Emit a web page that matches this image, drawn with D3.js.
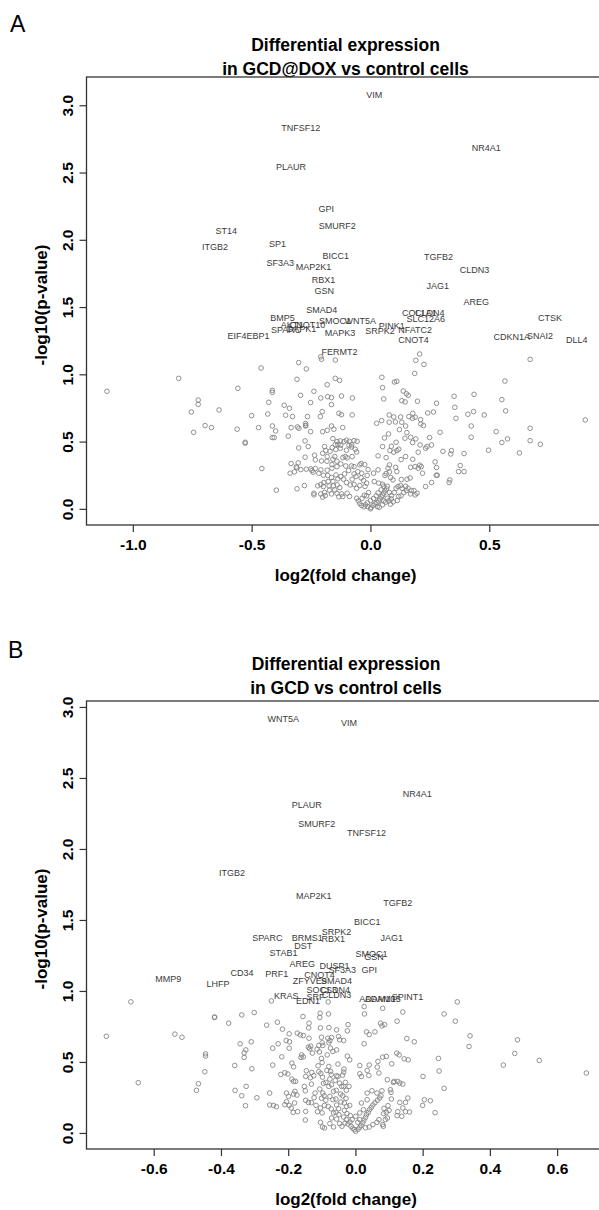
<!DOCTYPE html>
<html>
<head>
<meta charset="utf-8">
<script src="https://cdn.jsdelivr.net/npm/d3@7"></script>
<style>
  body { margin: 0; background: #fff; }
  svg { display: block; font-family: "Liberation Sans", Arial, sans-serif; }
</style>
</head>
<body>
<svg id="chart" width="599" height="1210"></svg>
<script>
/*
 * VOLCANO PLOTS: DIFFERENTIAL EXPRESSION, GCD@DOX AND GCD VS CONTROL CELLS
 */

// DATA - PANEL A (log2 fold change, -log10 p)
var labelsA = [
    ["VIM", 0.016, 3.08], ["TNFSF12", -0.293, 2.83], ["NR4A1", 0.487, 2.68],
    ["PLAUR", -0.334, 2.54], ["GPI", -0.186, 2.23], ["SMURF2", -0.14, 2.10],
    ["ST14", -0.607, 2.07], ["ITGB2", -0.654, 1.95], ["SP1", -0.391, 1.97],
    ["BICC1", -0.146, 1.88], ["TGFB2", 0.286, 1.876], ["SF3A3", -0.38, 1.83],
    ["MAP2K1", -0.24, 1.80], ["CLDN3", 0.438, 1.78], ["RBX1", -0.198, 1.70],
    ["JAG1", 0.283, 1.66], ["GSN", -0.194, 1.62], ["AREG", 0.445, 1.54],
    ["SMAD4", -0.205, 1.48], ["COL1A1", 0.205, 1.46], ["CLDN4", 0.25, 1.46],
    ["BMP5", -0.37, 1.42], ["SLC12A6", 0.233, 1.41], ["CTSK", 0.756, 1.42],
    ["SMOC1", -0.149, 1.40], ["WNT5A", -0.043, 1.395], ["AKT1", -0.33, 1.365],
    ["CNOT10", -0.265, 1.37], ["PINK1", 0.09, 1.36], ["SPARC", -0.355, 1.333],
    ["DAPK1", -0.29, 1.335], ["SRPK2", 0.04, 1.326], ["NFATC2", 0.188, 1.328],
    ["MAPK3", -0.128, 1.31], ["EIF4EBP1", -0.513, 1.284], ["CDKN1A", 0.595, 1.28],
    ["SNAI2", 0.714, 1.284], ["CNOT4", 0.181, 1.254], ["DLL4", 0.868, 1.254],
    ["FERMT2", -0.13, 1.168]
];

var pointsA = [
    [-0.209,1.13],[-0.206,1.112],[-0.148,1.106],[-0.302,1.087],[0.207,1.151],[0.191,1.104],[0.225,1.074],[0.672,1.111],
    [-0.46,1.047],[-0.27,1.04],[0.186,1.007],[0.048,0.978],[-0.807,0.970],[-0.148,0.970],[-0.13,0.955],[-0.309,0.963],
    [0.566,0.950],[0.101,0.943],[0.111,0.948],[-0.182,0.923],[0.051,0.901],[-1.109,0.874],[-0.558,0.896],[-0.413,0.881],
    [-0.413,0.866],[-0.238,0.874],[0.138,0.876],[0.151,0.856],[0.159,0.844],[-0.294,0.844],[-0.122,0.839],[-0.076,0.824],
    [0.352,0.837],[0.436,0.851],[-0.18,0.834],[-0.164,0.827],[-0.209,0.824],[0.056,0.817],[0.132,0.804],[0.146,0.795],
    [0.198,0.800],[0.553,0.812],[-0.725,0.809],[-0.725,0.777],[-0.428,0.792],[-0.363,0.770],[-0.341,0.748],[-0.252,0.790],
    [-0.164,0.775],[0.278,0.785],[0.355,0.755],[0.569,0.728],[0.434,0.723],[0.410,0.703],[0.479,0.698],[0.241,0.713],
    [0.265,0.720],[-0.637,0.735],[-0.754,0.720],[-0.5,0.693],[-0.432,0.705],[-0.357,0.696],[-0.328,0.686],[-0.265,0.686],
    [-0.211,0.686],[-0.203,0.723],[-0.133,0.710],[-0.122,0.700],[-0.077,0.698],[0.079,0.698],[0.098,0.683],[0.127,0.683],
    [0.162,0.686],[0.178,0.710],[0.177,0.673],[0.188,0.681],[0.211,0.663],[0.079,0.644],[0.105,0.646],[0.132,0.644],
    [0.026,0.636],[0.047,0.656],[0.212,0.631],[0.223,0.619],[0.148,0.616],[0.293,0.569],[0.360,0.673],[0.904,0.661],
    [-0.696,0.619],[-0.669,0.604],[-0.744,0.569],[-0.561,0.592],[-0.471,0.604],[-0.413,0.616],[-0.399,0.579],[-0.405,0.530],
    [-0.413,0.530],[-0.334,0.604],[-0.307,0.609],[-0.301,0.599],[-0.273,0.634],[-0.272,0.621],[-0.273,0.616],[-0.252,0.574],
    [-0.201,0.574],[-0.182,0.584],[-0.164,0.616],[-0.154,0.592],[-0.117,0.604],[-0.346,0.540],[-0.302,0.453],[-0.262,0.463],
    [-0.275,0.505],[-0.527,0.495],[-0.527,0.488],[0.553,0.493],[0.577,0.520],[0.672,0.599],[0.672,0.507],[0.715,0.480],
    [0.627,0.416],[0.529,0.574],[0.497,0.436],[0.424,0.532],[0.424,0.616],[0.394,0.411],[0.341,0.433],[0.338,0.408],
    [0.378,0.322],[0.394,0.277],[0.371,0.277],[0.334,0.215],[0.331,0.196],[0.305,0.428],[0.272,0.349],[0.278,0.307],
    [0.281,0.250],[0.277,0.250],[0.257,0.196],[0.232,0.166],[0.232,0.450],[0.257,0.475],[0.209,0.475],[0.177,0.493],
    [0.191,0.520],[0.169,0.532],[0.249,0.530],[0.238,0.463],[0.201,0.421],[0.207,0.324],[0.188,0.314],[0.201,0.302],
    [0.219,0.265],[0.214,0.314],[0.169,0.309],[0.178,0.369],[0.148,0.389],[0.129,0.366],[0.119,0.443],[0.111,0.433],
    [0.098,0.421],[0.108,0.495],[0.088,0.465],[0.082,0.433],[0.051,0.463],[0.059,0.527],[0.076,0.557],[0.145,0.525],
    [0.153,0.567],[0.122,0.589],[0.066,0.381],[0.032,0.394],[0.080,0.327],[0.074,0.302],[0.106,0.309],[0.111,0.277],
    [0.080,0.275],[0.066,0.262],[0.061,0.248],[0.085,0.233],[0.095,0.215],[0.108,0.153],[0.100,0.121],[0.080,0.121],
    [0.071,0.079],[0.088,0.099],[0.119,0.092],[0.129,0.097],[0.140,0.121],[0.151,0.136],[0.158,0.153],[0.169,0.111],
    [0.172,0.136],[0.183,0.136],[0.188,0.104],[0.196,0.116],[0.154,0.220],[0.167,0.230],[0.130,0.218],[0.127,0.173],
    [0.116,0.166],[0.133,0.153],[0.148,0.168],[0,0],[-0.011,0.017],[0.003,0.010],[0.011,0.025],[0.019,0.037],
    [0.027,0.047],[0.035,0.059],[0.040,0.074],[0.045,0.089],[0.051,0.101],[0.056,0.116],[0.061,0.134],[0.068,0.149],
    [0.071,0.168],[0.056,0.168],[0.045,0.141],[0.032,0.119],[0.024,0.097],[0.013,0.077],[0,0.062],[-0.013,0.045],
    [-0.021,0.030],[-0.027,0.015],[-0.037,0.025],[-0.045,0.040],[-0.051,0.059],[-0.058,0.079],[-0.035,0.079],[-0.026,0.101],
    [-0.016,0.097],[-0.008,0.121],[0.029,0.017],[0.037,0.012],[0.051,0.030],[0.064,0.050],[0.077,0.059],[0.087,0.074],
    [0.096,0.052],[0.113,0.062],[0.084,0.035],[0.056,0.059],[-0.024,0.329],[-0.039,0.337],[-0.045,0.327],[-0.069,0.314],
    [-0.080,0.319],[-0.053,0.277],[-0.037,0.265],[-0.069,0.260],[-0.092,0.285],[-0.029,0.210],[-0.016,0.191],[-0.023,0.166],
    [-0.045,0.173],[-0.058,0.153],[-0.069,0.181],[-0.085,0.178],[-0.101,0.196],[-0.113,0.220],[-0.125,0.240],[-0.109,0.260],
    [-0.077,0.220],[-0.061,0.240],[-0.039,0.230],[-0.014,0.248],[0.013,0.265],[0.032,0.290],[-0.010,0.292],[0.016,0.203],
    [0.035,0.191],[0.051,0.183],[-0.158,0.522],[-0.141,0.500],[-0.127,0.505],[-0.111,0.500],[-0.101,0.510],[-0.088,0.502],
    [-0.069,0.507],[-0.056,0.502],[-0.080,0.460],[-0.090,0.473],[-0.125,0.473],[-0.137,0.478],[-0.148,0.478],[-0.161,0.455],
    [-0.193,0.463],[-0.188,0.433],[-0.170,0.428],[-0.146,0.441],[-0.127,0.450],[-0.101,0.436],[-0.079,0.475],[-0.106,0.389],
    [-0.116,0.381],[-0.098,0.379],[-0.150,0.389],[-0.158,0.369],[-0.182,0.389],[-0.201,0.413],[-0.235,0.399],[-0.232,0.364],
    [-0.206,0.356],[-0.183,0.354],[-0.162,0.329],[-0.141,0.354],[-0.125,0.334],[-0.104,0.319],[-0.141,0.314],[-0.162,0.302],
    [-0.182,0.287],[-0.209,0.290],[-0.232,0.300],[-0.251,0.297],[-0.270,0.295],[-0.293,0.292],[-0.310,0.304],[-0.320,0.275],
    [-0.338,0.265],[-0.304,0.342],[-0.312,0.312],[-0.275,0.384],[-0.246,0.285],[-0.241,0.272],[-0.217,0.265],[-0.198,0.250],
    [-0.180,0.248],[-0.164,0.233],[-0.145,0.252],[-0.137,0.223],[-0.158,0.205],[-0.178,0.203],[-0.196,0.196],[-0.209,0.181],
    [-0.222,0.171],[-0.198,0.166],[-0.174,0.171],[-0.156,0.171],[-0.140,0.178],[-0.129,0.158],[-0.150,0.141],[-0.172,0.139],
    [-0.193,0.121],[-0.209,0.111],[-0.190,0.099],[-0.164,0.111],[-0.141,0.116],[-0.121,0.111],[-0.098,0.116],[-0.088,0.092],
    [-0.117,0.092],[-0.133,0.089],[-0.238,0.116],[-0.238,0.104],[-0.201,0.087],[-0.278,0.173],[-0.309,0.149],[-0.396,0.139],
    [-0.457,0.300],[-0.334,0.337],[-0.077,0.389],[-0.058,0.423],[-0.064,0.443]
];

// DATA - PANEL B
var labelsB = [
    ["WNT5A", -0.215, 2.914], ["VIM", -0.019, 2.89], ["NR4A1", 0.184, 2.387],
    ["PLAUR", -0.145, 2.31], ["SMURF2", -0.115, 2.18], ["TNFSF12", 0.033, 2.11],
    ["ITGB2", -0.367, 1.832], ["MAP2K1", -0.124, 1.667], ["TGFB2", 0.126, 1.617],
    ["BICC1", 0.035, 1.487], ["SRPK2", -0.056, 1.417], ["SPARC", -0.262, 1.375],
    ["BRMS1", -0.143, 1.375], ["RBX1", -0.066, 1.364], ["JAG1", 0.108, 1.375],
    ["DST", -0.155, 1.317], ["STAB1", -0.214, 1.265], ["SMOC1", 0.048, 1.26],
    ["GSN", 0.055, 1.237], ["AREG", -0.158, 1.19], ["DUSP1", -0.062, 1.176],
    ["SF3A3", -0.039, 1.148], ["GPI", 0.041, 1.148], ["CD34", -0.337, 1.129],
    ["PRF1", -0.234, 1.117], ["CNOT4", -0.107, 1.112], ["MMP9", -0.557, 1.082],
    ["ZFYVE9", -0.136, 1.073], ["SMAD4", -0.056, 1.068], ["LHFP", -0.409, 1.049],
    ["SOCS3", -0.10, 1.007], ["CLDN4", -0.06, 1.01], ["KRAS", -0.206, 0.965],
    ["SRF", -0.119, 0.955], ["CLDN3", -0.056, 0.972], ["EDN1", -0.141, 0.932],
    ["ADAM10", 0.065, 0.945], ["ADAM15", 0.081, 0.941], ["SPINT1", 0.155, 0.960]
];

var pointsB = [
    [-0.668,0.923],[-0.741,0.681],[-0.646,0.354],[-0.537,0.696],[-0.516,0.674],[-0.446,0.557],[-0.446,0.541],[-0.448,0.431],
    [-0.467,0.347],[-0.473,0.300],[-0.419,0.817],[-0.419,0.813],[-0.377,0.773],[-0.338,0.831],[-0.301,0.848],[-0.343,0.628],
    [-0.326,0.585],[-0.331,0.564],[-0.331,0.532],[-0.310,0.642],[-0.359,0.475],[-0.308,0.452],[-0.358,0.300],[-0.338,0.262],
    [-0.325,0.328],[-0.327,0.192],[-0.293,0.248],[-0.264,0.759],[-0.232,0.780],[-0.217,0.731],[-0.197,0.698],[-0.246,0.597],
    [-0.230,0.628],[-0.206,0.651],[-0.196,0.642],[-0.219,0.536],[-0.197,0.597],[-0.246,0.478],[-0.189,0.492],[-0.184,0.466],
    [-0.222,0.412],[-0.210,0.424],[-0.201,0.415],[-0.189,0.379],[-0.184,0.363],[-0.178,0.363],[-0.255,0.281],[-0.205,0.281],
    [-0.199,0.258],[-0.184,0.274],[-0.180,0.293],[-0.174,0.267],[-0.255,0.197],[-0.244,0.194],[-0.235,0.185],[-0.210,0.199],
    [-0.205,0.220],[-0.197,0.194],[-0.191,0.176],[-0.185,0.145],[-0.172,0.150],[-0.181,0.211],[-0.173,0.703],[-0.164,0.691],
    [-0.156,0.820],[-0.155,0.686],[-0.162,0.532],[-0.160,0.550],[-0.155,0.536],[-0.146,0.438],[-0.148,0.398],[-0.152,0.328],
    [-0.149,0.297],[-0.148,0.230],[-0.140,0.215],[-0.148,0.152],[-0.149,0.091],[-0.138,0.773],[-0.139,0.740],[-0.138,0.667],
    [-0.140,0.604],[-0.136,0.593],[-0.133,0.611],[-0.128,0.562],[-0.130,0.426],[-0.124,0.403],[-0.134,0.389],[-0.131,0.344],
    [-0.131,0.213],[-0.123,0.248],[-0.120,0.281],[-0.117,0.194],[-0.113,0.150],[-0.105,0.843],[-0.106,0.813],[-0.104,0.740],
    [-0.101,0.674],[-0.099,0.635],[-0.097,0.616],[-0.109,0.616],[-0.114,0.590],[-0.107,0.571],[-0.101,0.525],[-0.099,0.496],
    [-0.111,0.473],[-0.109,0.431],[-0.103,0.419],[-0.098,0.393],[-0.095,0.349],[-0.106,0.309],[-0.097,0.281],[-0.093,0.262],
    [-0.101,0.244],[-0.088,0.230],[-0.092,0.194],[-0.104,0.176],[-0.099,0.141],[-0.104,0.075],[-0.098,0.042],[-0.092,0.035],
    [-0.080,0.838],[-0.079,0.742],[-0.082,0.667],[-0.076,0.651],[-0.079,0.635],[-0.071,0.672],[-0.074,0.597],[-0.067,0.574],
    [-0.084,0.550],[-0.079,0.468],[-0.085,0.440],[-0.074,0.433],[-0.072,0.412],[-0.076,0.379],[-0.088,0.356],[-0.071,0.340],
    [-0.079,0.328],[-0.065,0.293],[-0.076,0.258],[-0.067,0.234],[-0.081,0.187],[-0.072,0.169],[-0.065,0.141],[-0.071,0.105],
    [-0.076,0.066],[-0.065,0.042],[-0.056,0.726],[-0.050,0.679],[-0.047,0.656],[-0.035,0.651],[-0.056,0.585],[-0.052,0.485],
    [-0.056,0.403],[-0.052,0.398],[-0.060,0.370],[-0.047,0.351],[-0.041,0.328],[-0.057,0.300],[-0.044,0.274],[-0.058,0.239],
    [-0.043,0.218],[-0.056,0.197],[-0.050,0.171],[-0.058,0.145],[-0.049,0.129],[-0.056,0.098],[-0.047,0.066],[-0.040,0.047],
    [-0.034,0.450],[-0.035,0.429],[-0.038,0.407],[-0.030,0.356],[-0.035,0.328],[-0.027,0.300],[-0.038,0.262],[-0.028,0.244],
    [-0.033,0.211],[-0.026,0.187],[-0.033,0.159],[-0.025,0.136],[-0.035,0.112],[-0.027,0.094],[-0.031,0.070],[-0.022,0.063],
    [-0.022,0.763],[-0.024,0.719],[-0.024,0.541],[-0.017,0.515],[-0.019,0.328],[-0.017,0.194],[-0.015,0.122],[-0.016,0.077],
    [-0.013,0.047],[-0.008,0.033],[-0.003,0.023],[0.001,0.012],[0.008,0.026],[0.013,0.040],[0.017,0.054],[0.022,0.073],
    [0.025,0.091],[0.030,0.110],[0.033,0.129],[0.038,0.145],[0.042,0.164],[0.047,0.180],[0.052,0.197],[0.058,0.213],
    [0.065,0.230],[0.072,0.246],[0.076,0.262],[0.083,0.047],[0.081,0.059],[0.089,0.094],[0.095,0.105],[0.084,0.136],
    [0.092,0.145],[0.100,0.159],[0.085,0.173],[0.097,0.192],[0.107,0.239],[0.106,0.286],[0.079,0.297],[0.064,0.281],
    [0.049,0.297],[0.035,0.281],[0.035,0.234],[0.018,0.211],[0.024,0.164],[0.013,0.141],[0.001,0.117],[0.013,0.094],
    [-0.010,0.094],[0.007,0.075],[0.030,0.037],[0.041,0.042],[0.052,0.059],[0.064,0.075],[0.070,0.094],[0.126,0.150],
    [0.124,0.122],[0.138,0.117],[0.149,0.150],[0.161,0.148],[0.141,0.176],[0.149,0.215],[0.156,0.246],[0.132,0.215],
    [0.132,0.351],[0.113,0.356],[0.141,0.344],[0.095,0.375],[0.126,0.363],[0.104,0.304],[0.108,0.487],[0.115,0.363],
    [0.123,0.562],[0.130,0.550],[0.145,0.522],[0.157,0.515],[0.070,0.422],[0.040,0.405],[0.041,0.478],[0.013,0.475],
    [0.018,0.398],[0.035,0.440],[0.067,0.504],[0.081,0.534],[0.092,0.539],[0.065,0.464],[0.033,0.712],[0.041,0.693],
    [0.058,0.712],[0.075,0.773],[0.087,0.763],[0.079,0.754],[0.124,0.787],[0.141,0.852],[0.027,0.838],[0.026,0.890],
    [0.081,0.878],[0.153,0.665],[0.175,0.642],[0.026,0.628],[0.013,0.417],[0.201,0.398],[0.200,0.194],[0.205,0.234],
    [0.223,0.227],[0.237,0.143],[0.247,0.525],[0.249,0.436],[0.264,0.314],[0.264,0.838],[0.297,0.787],[0.303,0.923],
    [0.341,0.684],[0.338,0.609],[0.440,0.478],[0.474,0.560],[0.482,0.656],[0.547,0.511],[0.687,0.422],[-0.250,0.930],
    [-0.081,0.923]
];

// AXIS TICKS
var ticksAx = [-1.0, -0.5, 0.0, 0.5];
var ticksBx = [-0.6, -0.4, -0.2, 0.0, 0.2, 0.4, 0.6];
var ticksY = [0.0, 0.5, 1.0, 1.5, 2.0, 2.5, 3.0];

var FONT = '"Liberation Sans", Arial, sans-serif';
var svg = d3.select("#chart");

function drawPanel(p) {
    var g = svg.append("g");
    var x = d3.scaleLinear().domain(p.xdom).range([p.left, p.right]);
    var y = d3.scaleLinear().domain(p.ydom).range([p.bottom, p.top]);

    // panel letter
    g.append("text").attr("x", p.letterX).attr("y", p.letterY)
        .attr("font-size", 23).attr("fill", "#000").text(p.letter);

    // title
    var cx = (p.left + p.right) / 2;
    p.title.forEach(function(t, i) {
        g.append("text").attr("x", cx).attr("y", p.titleY + i * 24)
            .attr("text-anchor", "middle").attr("font-size", 17.5)
            .attr("font-weight", "bold").attr("fill", "#000").text(t);
    });

    // box
    g.append("rect").attr("x", p.left).attr("y", p.top)
        .attr("width", p.right - p.left).attr("height", p.bottom - p.top)
        .attr("fill", "none").attr("stroke", "#333").attr("stroke-width", 1.3);

    // axes
    var xa = g.append("g").attr("transform", "translate(0," + p.bottom + ")")
        .call(d3.axisBottom(x).tickValues(p.xticks).tickSize(7).tickPadding(3)
            .tickFormat(d3.format(".1f")));
    var ya = g.append("g").attr("transform", "translate(" + p.left + ",0)")
        .call(d3.axisLeft(y).tickValues(ticksY).tickSize(7).tickFormat(d3.format(".1f")));
    [xa, ya].forEach(function(a) {
        a.select(".domain").remove();
        a.selectAll("line").attr("stroke", "#333").attr("stroke-width", 1.2);
        a.selectAll("text").attr("font-family", FONT).attr("font-size", 15.5)
            .attr("font-weight", "bold").attr("fill", "#000");
    });
    xa.selectAll("text").attr("dy", "0.95em").text(function(d) { return d3.format(".1f")(d).replace("\u2212", "-"); });
    ya.selectAll("text")
        .attr("text-anchor", "middle").attr("dy", 0).attr("x", 0)
        .attr("transform", "translate(-19,0) rotate(-90)")
        .attr("y", 0).attr("dominant-baseline", "central");

    // axis titles
    g.append("text").attr("x", cx).attr("y", p.bottom + 56)
        .attr("text-anchor", "middle").attr("font-size", 17).attr("font-weight", "bold")
        .text("log2(fold change)");
    g.append("text").attr("transform", "translate(47," + ((p.top + p.bottom) / 2 + 4) + ") rotate(-90)")
        .attr("text-anchor", "middle").attr("font-size", 17).attr("font-weight", "bold")
        .text("-log10(p-value)");

    // points
    g.append("g").selectAll("circle").data(p.points).enter().append("circle")
        .attr("cx", function(d) { return x(d[0]); })
        .attr("cy", function(d) { return y(d[1]); })
        .attr("r", 2.3).attr("fill", "none").attr("stroke", "#858585").attr("stroke-width", 0.9);

    // gene labels
    g.append("g").selectAll("text").data(p.labels).enter().append("text")
        .attr("x", function(d) { return x(d[1]); })
        .attr("y", function(d) { return y(d[2]); })
        .attr("dy", "0.35em").attr("text-anchor", "middle")
        .attr("font-size", 9).attr("fill", "#3a3a3a")
        .text(function(d) { return d[0]; });
}

drawPanel({
    letter: "A", letterX: 10, letterY: 32, titleY: 51,
    title: ["Differential expression", "in GCD@DOX vs control cells"],
    left: 86.5, right: 604.5, top: 77, bottom: 525,
    xdom: [-1.195, 0.985], ydom: [-0.12, 3.21],
    xticks: ticksAx, points: pointsA, labels: labelsA
});

drawPanel({
    letter: "B", letterX: 8, letterY: 658, titleY: 670,
    title: ["Differential expression", "in GCD vs control cells"],
    left: 86.5, right: 605.5, top: 701, bottom: 1149,
    xdom: [-0.80, 0.744], ydom: [-0.113, 3.042],
    xticks: ticksBx, points: pointsB, labels: labelsB
});
</script>
</body>
</html>
